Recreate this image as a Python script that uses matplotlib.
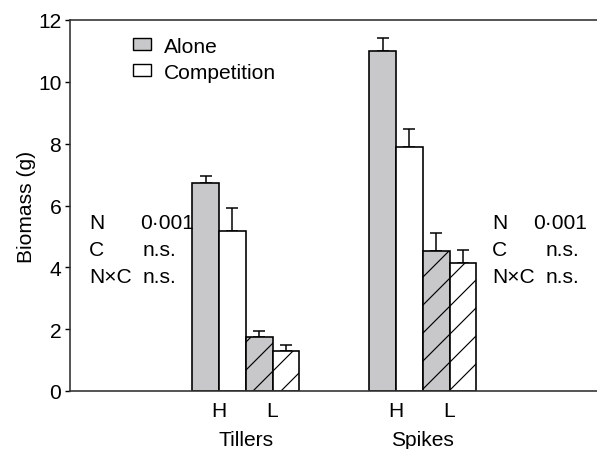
import matplotlib.pyplot as plt
from matplotlib.patches import Patch
from matplotlib.transforms import blended_transform_factory
import numpy as np

plt.rcParams['font.family'] = ['Liberation Sans', 'DejaVu Sans']
plt.rcParams['font.size'] = 18
plt.rcParams['hatch.linewidth'] = 1.0

groups = ['Tillers', 'Spikes']
levels = ['H', 'L']
# biomass means and upper standard errors
alone_H = [6.73, 11.0]
alone_H_err = [0.23, 0.42]
comp_H = [5.18, 7.9]
comp_H_err = [0.74, 0.58]
alone_L = [1.75, 4.53]
alone_L_err = [0.19, 0.58]
comp_L = [1.29, 4.14]
comp_L_err = [0.20, 0.41]
stats_terms = ['N', 'C', 'N×C']
stats_values = ['0·001', 'n.s.', 'n.s.']

gray = '#c8c8ca'
group_pos = np.array([0.0, 6.62])

# 84 dpi keeps the hatch spacing close to the printed figure
DPI = 84
fig = plt.figure(figsize=(597 / DPI, 450 / DPI), dpi=DPI)
ax = fig.add_axes([70 / 597, 58 / 450, 550 / 597, 371 / 450])

def draw(xs, vals, errs, color, hatch):
    ax.bar(xs, vals, width=1.0, color=color, edgecolor='black',
           linewidth=1.4, hatch=hatch, zorder=2)
    ax.errorbar(xs, vals, yerr=[np.zeros(len(errs)), errs], fmt='none',
                ecolor='black', elinewidth=1.3, capsize=5.5, capthick=1.3,
                zorder=1)

draw(group_pos - 0.5, alone_H, alone_H_err, gray, None)
draw(group_pos + 0.5, comp_H, comp_H_err, 'white', None)
draw(group_pos + 1.5, alone_L, alone_L_err, gray, '/')
draw(group_pos + 2.5, comp_L, comp_L_err, 'white', '/')

ax.set_xlim(-5.57, 14.99)
ax.set_ylim(0, 12)
ax.set_yticks(range(0, 13, 2))
ax.set_xticks(np.concatenate([group_pos, group_pos + 2]))
ax.set_xticklabels([levels[0]] * 2 + [levels[1]] * 2)
ax.tick_params(axis='x', length=0, pad=9)
ax.tick_params(axis='y', direction='out', length=4.5, width=1.2, pad=3)
ax.spines['right'].set_visible(False)
for s in ['left', 'top', 'bottom']:
    ax.spines[s].set_linewidth(1.4)
    ax.spines[s].set_color('#333333')

ax.set_ylabel('Biomass (g)', labelpad=2)

tr = blended_transform_factory(ax.transData, ax.transAxes)
for g, x in zip(groups, group_pos):
    ax.text(x + 1, -0.13, g, transform=tr, ha='center', va='center')

# significance of N, C and interaction for each organ
blocks = [(-4.86, [-2.95, -2.84, -2.84]), (10.2, [11.74, 12.19, 12.19])]
for x_term, x_vals in blocks:
    for i, (t, v) in enumerate(zip(stats_terms, stats_values)):
        y = 5.45 - i * 0.88
        ax.text(x_term, y, t, ha='left', va='center')
        ax.text(x_vals[i], y, v, ha='left', va='center')

handles = [Patch(facecolor=gray, edgecolor='black', linewidth=1.2),
           Patch(facecolor='white', edgecolor='black', linewidth=1.2)]
ax.legend(handles, ['Alone', 'Competition'], loc='upper left',
          bbox_to_anchor=(0.088, 0.995), frameon=False, handlelength=0.85,
          handleheight=0.5, handletextpad=0.6, labelspacing=0.35,
          borderpad=0.2)

fig.savefig('out.png', dpi=DPI)
